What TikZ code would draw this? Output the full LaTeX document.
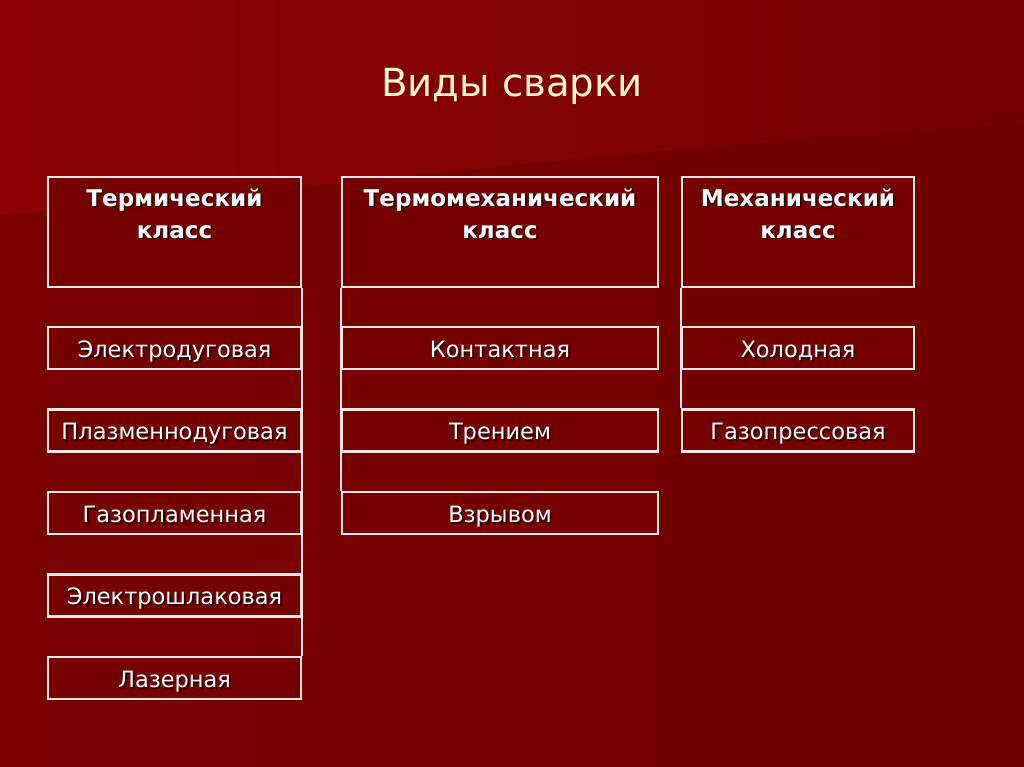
\documentclass[tikz,border=0pt]{standalone}
\usepackage{fontspec}
\setmainfont{DejaVu Sans}
\usepackage{xcolor}
\usepackage{tikz}
\definecolor{bgtl}{HTML}{8C0202}
\definecolor{bgtr}{HTML}{740000}
\definecolor{bgbl}{HTML}{7A0000}
\definecolor{bgbr}{HTML}{700000}
\definecolor{boxc}{HTML}{740000}
\definecolor{edgec}{HTML}{F6E6E6}
\definecolor{titlec}{HTML}{FFF4CC}
\definecolor{shadowc}{HTML}{2A0000}
\newcommand{\shtxt}[1]{\leavevmode\rlap{\hspace{1.2pt}\raisebox{-1.2pt}{\color{shadowc}#1}}#1}
\newcommand{\htext}[3]{\parbox[t][2.75cm][t]{#1}{\centering\vspace*{8.2pt}\shtxt{#2}\\\shtxt{#3}}}

\begin{document}
\begin{tikzpicture}[x=0.025cm,y=-0.025cm,
    head/.style={draw=edgec,line width=1.5pt,fill=boxc,inner sep=0pt,
      minimum height=2.75cm,text=white,
      font=\bfseries\fontsize{16.4}{22.8}\selectfont},
    leaf/.style={draw=edgec,line width=1.5pt,fill=boxc,inner sep=0pt,
      minimum height=1.05cm,text=white,text height=16.5pt,text depth=3pt,
      font=\fontsize{16}{19}\selectfont},
    link/.style={draw=edgec,line width=1.6pt}]
    % background
    \useasboundingbox (0,0) rectangle (1024,767);
    \shade[left color=bgbl,right color=bgbr] (0,0) rectangle (1024,767);
    \shade[left color=bgtl,right color=bgtr] (0,0) -- (1024,0) -- (1024,125)
      .. controls (700,140) and (300,190) .. (0,215) -- cycle;
    \node[anchor=base,text=titlec,font=\fontsize{27.5}{32}\selectfont] (ttl)
      at (512,97) {Виды сварки};
    %
    \node[head,minimum width=6.325cm] (t0) at (174.5,232)
      {\htext{6.2cm}{Термический}{класс}};
    \node[leaf,minimum width=6.325cm] (t1) at (174.5,348) {\shtxt{Электродуговая}};
    \node[leaf,minimum width=6.325cm] (t2) at (174.5,430.5) {\shtxt{Плазменнодуговая}};
    \node[leaf,minimum width=6.325cm] (t3) at (174.5,513) {\shtxt{Газопламенная}};
    \node[leaf,minimum width=6.325cm] (t4) at (174.5,595.5) {\shtxt{Электрошлаковая}};
    \node[leaf,minimum width=6.325cm] (t5) at (174.5,678) {\shtxt{Лазерная}};
    \draw[link] (t0.south east) -- (t5.north east);
    %
    \node[head,minimum width=7.9cm] (m0) at (500,232)
      {\htext{7.8cm}{Термомеханический}{класс}};
    \node[leaf,minimum width=7.9cm] (m1) at (500,348) {\shtxt{Контактная}};
    \node[leaf,minimum width=7.9cm] (m2) at (500,430.5) {\shtxt{Трением}};
    \node[leaf,minimum width=7.9cm] (m3) at (500,513) {\shtxt{Взрывом}};
    \draw[link] (m0.south west) -- (m3.north west);
    %
    \node[head,minimum width=5.8cm] (k0) at (798,232)
      {\htext{5.7cm}{Механический}{класс}};
    \node[leaf,minimum width=5.8cm] (k1) at (798,348) {\shtxt{Холодная}};
    \node[leaf,minimum width=5.8cm] (k2) at (798,430.5) {\shtxt{Газопрессовая}};
    \draw[link] (k0.south west) -- (k2.north west);
  \end{tikzpicture}
\end{document}
